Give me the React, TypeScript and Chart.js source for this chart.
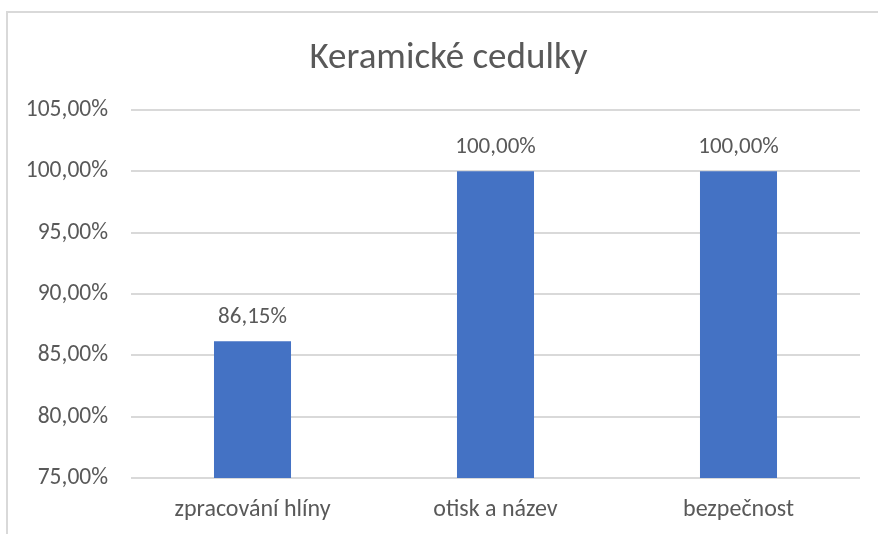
import React, { useEffect, useRef } from "react";
import { Chart, registerables } from "chart.js";

Chart.register(...registerables);

const title = "Keramické cedulky";
const categories = ["zpracování hlíny", "otisk a název", "bezpečnost"];
const values = [86.15, 100, 100];
const yMin = 75;
const yMax = 105;
const yStep = 5;

const FONT = "Carlito, Lato, 'Liberation Sans', sans-serif";
const TEXT = "#595959";
const BAR = "#4472C4";
const GRID = "#d9d9d9";

const fmt = (v: number) => v.toFixed(2).replace(".", ",") + "%";

export default function App() {
  const ref = useRef<HTMLCanvasElement | null>(null);
  useEffect(() => {
    if (!ref.current) return;
    const decor = {
      id: "decor",
      beforeDraw(chart: any) {
        const ctx = chart.ctx;
        ctx.save();
        ctx.fillStyle = "#ffffff";
        ctx.fillRect(0, 0, chart.width, chart.height);
        ctx.strokeStyle = GRID;
        ctx.lineWidth = 2;
        ctx.beginPath();
        ctx.moveTo(7, 534);
        ctx.lineTo(7, 12);
        ctx.lineTo(878, 12);
        ctx.stroke();
        ctx.fillStyle = TEXT;
        ctx.font = `37px ${FONT}`;
        ctx.textAlign = "center";
        ctx.textBaseline = "alphabetic";
        ctx.fillText(title, 448.5, 68);
        ctx.restore();
      },
      afterDatasetsDraw(chart: any) {
        const ctx = chart.ctx;
        const meta = chart.getDatasetMeta(0);
        ctx.save();
        ctx.fillStyle = TEXT;
        ctx.font = `23px ${FONT}`;
        ctx.textAlign = "center";
        ctx.textBaseline = "alphabetic";
        meta.data.forEach((el: any, i: number) => {
          ctx.fillText(fmt(values[i]), el.x, el.y - 18);
        });
        ctx.restore();
      },
    };
    const chart = new Chart(ref.current, {
      type: "bar",
      data: {
        labels: categories,
        datasets: [
          {
            data: values,
            backgroundColor: BAR,
            barPercentage: 0.317,
            categoryPercentage: 1,
          },
        ],
      },
      options: {
        animation: false,
        responsive: false,
        layout: { padding: { top: 110, right: 18, left: 0, bottom: 0 } },
        plugins: {
          legend: { display: false },
          title: { display: false },
          tooltip: { enabled: false },
        },
        scales: {
          x: {
            grid: { display: false, drawTicks: false },
            border: { display: false },
            ticks: {
              color: TEXT,
              font: { family: FONT, size: 24 },
              padding: 18,
            },
            afterFit: (s: any) => {
              s.height = 56;
            },
          },
          y: {
            min: yMin,
            max: yMax,
            grid: { color: GRID, lineWidth: 2, drawTicks: false },
            border: { display: false },
            ticks: {
              stepSize: yStep,
              color: TEXT,
              font: { family: FONT, size: 23.5 },
              padding: 23,
              callback: (v: any) => fmt(Number(v)),
            },
            afterFit: (s: any) => {
              s.width = 131;
            },
          },
        },
      },
      plugins: [decor],
    });
    return () => chart.destroy();
  }, []);
  return (
    <div style={{ position: "absolute", left: 0, top: 0, width: 878, height: 534 }}>
      <canvas ref={ref} width={878} height={534} />
    </div>
  );
}
